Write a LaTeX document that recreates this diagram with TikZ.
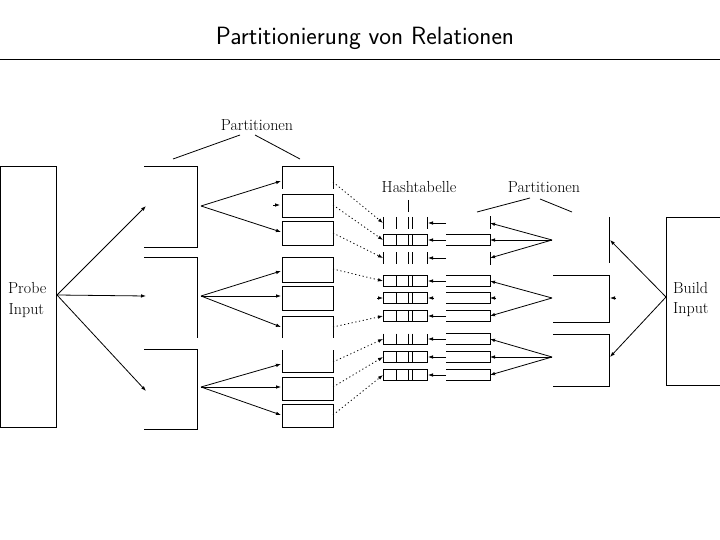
\documentclass[tikz,border=0pt]{standalone}
\usetikzlibrary{arrows.meta}
\tikzset{
  ln/.style={line width=0.8pt},
  arr/.style={ln,-{Latex[length=5pt,width=3.6pt]}},
  dotarr/.style={arr,dash pattern=on 1.2pt off 2.6pt},
  lbl/.style={font=\fontsize{16}{19}\selectfont,inner sep=0pt},
}
\begin{document}
\begin{tikzpicture}[x=1pt,y=-1pt]
\useasboundingbox (0,0) rectangle (720,540);
% title
\node[font=\fontsize{25}{29}\selectfont\sffamily,inner sep=0pt] (title) at (365,38) {Partitionierung von Relationen};
\coordinate (rl) at (0,60); \coordinate (rr) at (720,60);
\draw[line width=1pt] (rl) -- (rr);

% Probe input
\draw[ln] (0.5,166) rectangle (56,427);
\node[lbl,anchor=west] (probe1) at (8,288) {Probe};
\node[lbl,anchor=west] (probe2) at (8.5,311) {Input};
% Build input
\draw[ln] (726,217) -| (666,385) -- (726,385);
\node[lbl,anchor=west] (build1) at (673,288) {Build};
\node[lbl,anchor=west] (build2) at (673,310) {Input};

% left partition brackets
\draw[ln] (144,166) -- (197,166) -- (197,247) -- (144,247);
\draw[ln] (144,257) -- (197,257) -- (197,338);
\draw[ln] (144,349) -- (197,349) -- (197,429) -- (144,429);

% probe fan
\coordinate (pf) at (57,295);
\coordinate (b1in) at (146,206);
\coordinate (b2in) at (146,296);
\coordinate (b3in) at (146,391);
\draw[arr] (pf) -- (b1in);
\draw[arr] (pf) -- (b2in);
\draw[arr] (pf) -- (b3in);

% left partition boxes
\draw[ln] (282,189) |- (333,166) -- (333,189);
\draw[ln] (282,194) rectangle (333,217);
\draw[ln] (282,221) rectangle (333,245);
\draw[ln] (282,257) rectangle (333,282);
\draw[ln] (282,286) rectangle (333,310);
\draw[ln] (282,338) |- (333,316) -- (333,338);
\draw[ln] (282,350) |- (333,372) -- (333,350);
\draw[ln] (282,377) rectangle (333,400);
\draw[ln] (282,404) rectangle (333,427);

% left fans
\coordinate (f1) at (201,206);
\coordinate (f2) at (201,296);
\coordinate (f3) at (201,387);
\draw[arr] (f1) -- (281,181);
\draw[arr] (273,205) -- (280,205);
\draw[arr] (f1) -- (281,232);
\draw[arr] (f2) -- (281,271);
\draw[arr] (f2) -- (281,296);
\draw[arr] (f2) -- (281,327);
\draw[arr] (f3) -- (281,364);
\draw[arr] (f3) -- (281,387);
\draw[arr] (f3) -- (281,415);

% hash table rows
\foreach \y in {223,258}{
  \foreach \x in {383,396,408,412,427} \draw[ln] (\x,\y-6) -- (\x,\y+6);
}
\foreach \y in {240,281,298,316,357,375}{
  \draw[ln] (383,\y-5.5) rectangle (427,\y+5.5);
  \foreach \x in {396,408,412} \draw[ln] (\x,\y-5.5) -- (\x,\y+5.5);
}
\draw[ln] (383,333.5) |- (427,344.5) -- (427,333.5);
\foreach \x in {396,408,412} \draw[ln] (\x,333.5) -- (\x,344.5);
\node[lbl] (hash) at (419,187) {Hashtabelle};
\draw[ln] (408,200) -- (408,212);

% dotted links into hash table
\draw[dotarr] (333,182) -- (383,223);
\draw[dotarr] (333,205) -- (383,240);
\draw[dotarr] (333,233) -- (383,258);
\draw[dotarr] (333,269) -- (383,281);
\draw[arr] (377,298) -- (383,298);
\draw[dotarr] (333,327) -- (383,316);
\draw[dotarr] (333,362) -- (383,339);
\draw[dotarr] (333,387) -- (383,357);
\draw[dotarr] (333,415) -- (383,375);

% right partition boxes and links into hash table
\foreach \y in {223,258}{
  \draw[ln] (490,\y-6.5) -- (490,\y+6.5);
  \draw[arr] (446,\y) -- (428,\y);
}
\foreach \y in {240,281,316,339,357,375}{
  \draw[ln] (446,\y-5.5) -| (490,\y+5.5) -- (446,\y+5.5);
  \draw[arr] (446,\y) -- (428,\y);
}
\draw[ln] (446,292.5) -| (490,303.5) -- (446,303.5);
\draw[arr] (434,298) -- (428,298);

% right fans
\coordinate (g1) at (552,240);
\coordinate (g2) at (552,298);
\coordinate (g3) at (552,357);
\draw[arr] (g1) -- (490,223);
\draw[arr] (g1) -- (490,240);
\draw[arr] (g1) -- (490,258);
\draw[arr] (g2) -- (490,281);
\draw[arr] (496,298) -- (490,298);
\draw[arr] (g2) -- (490,316);
\draw[arr] (g3) -- (490,339);
\draw[arr] (g3) -- (490,357);
\draw[arr] (g3) -- (490,375);

% right brackets
\draw[ln] (609,217) -- (609,263);
\draw[ln] (553,275) -- (609,275) -- (609,322) -- (553,322);
\draw[ln] (553,334) -- (609,334) -- (609,386) -- (553,386);

% build fan
\coordinate (bf) at (666,297);
\draw[arr] (bf) -- (610,240);
\draw[arr] (616,298) -- (610,298);
\draw[arr] (bf) -- (610,357);

% labels "Partitionen"
\node[lbl] (partL) at (257,125) {Partitionen};
\draw[ln] (240,135) -- (173,159);
\draw[ln] (255,135) -- (300,159);
\node[lbl] (partR) at (544,187) {Partitionen};
\draw[ln] (530,198) -- (477,212);
\draw[ln] (540,199) -- (572,212);
\end{tikzpicture}
\end{document}
